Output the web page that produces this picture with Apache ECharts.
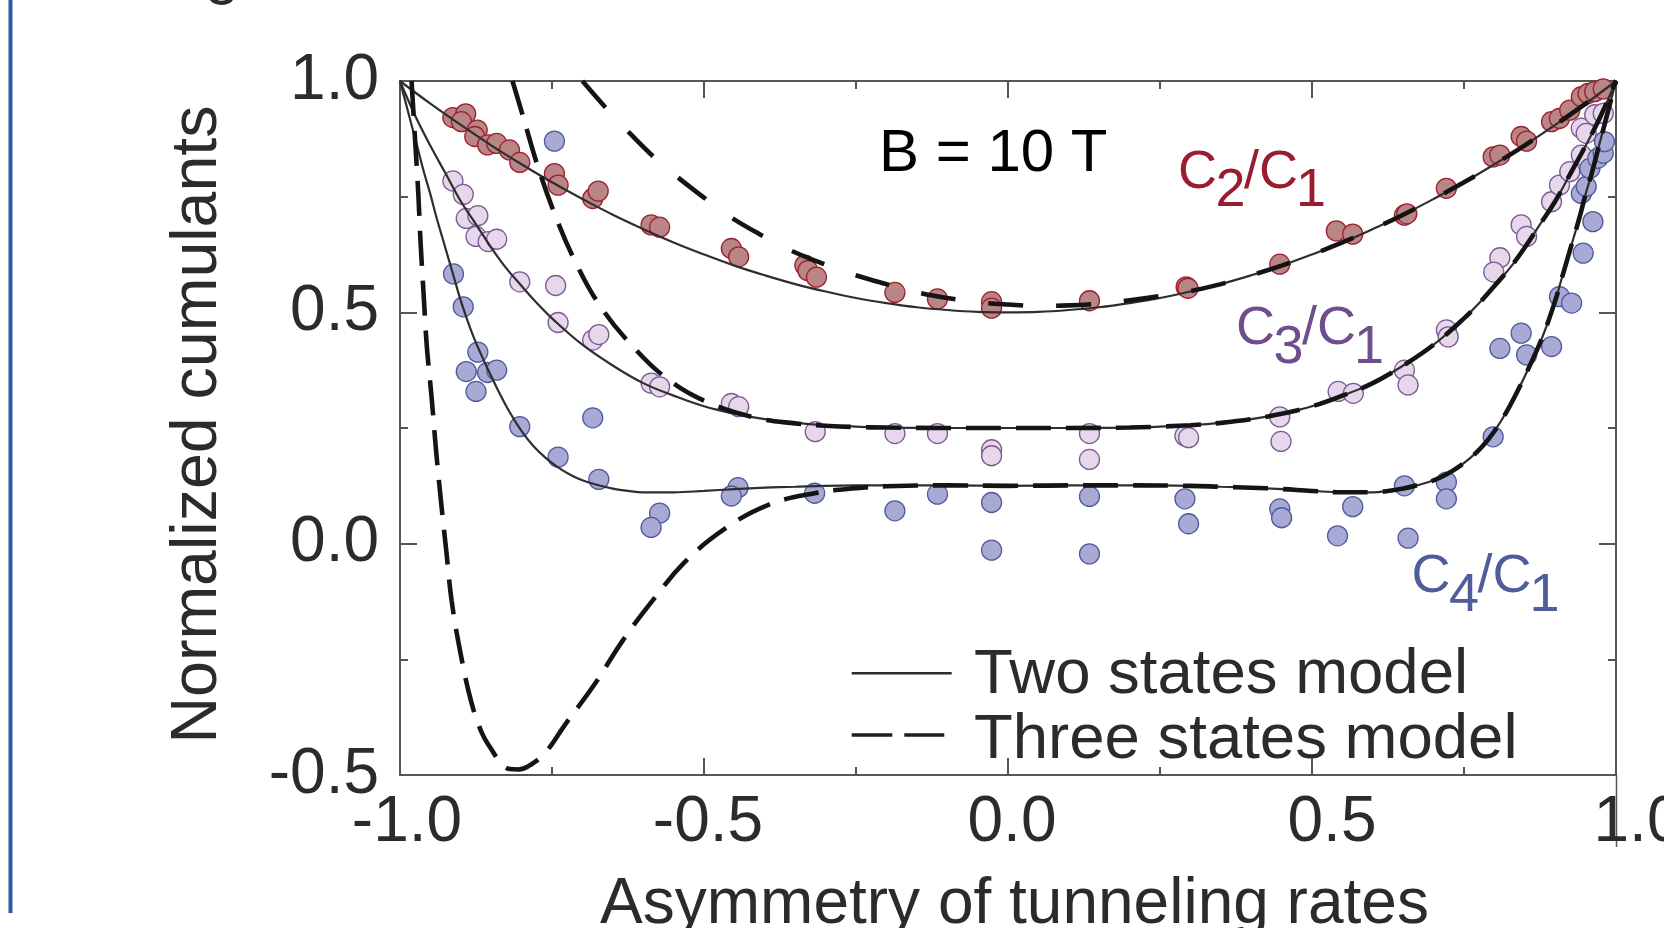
<!DOCTYPE html>
<html>
<head>
<meta charset="utf-8">
<script src="https://cdn.jsdelivr.net/npm/echarts@6/dist/echarts.min.js"></script>
<style>
html,body{margin:0;padding:0;background:#ffffff;}
#chart{width:1664px;height:928px;}
</style>
</head>
<body>
<div id="chart"></div>
<script>
// ---------- tick labels ----------
const xTickLabels = ['-1.0', '-0.5', '0.0', '0.5', '1.0'];
const yTickLabels = ['-0.5', '0.0', '0.5', '1.0'];

// ---------- measured points [asymmetry, normalized cumulant] ----------
const c2Measured = [
  [-0.913,0.921],[-0.892,0.929],[-0.899,0.912],[-0.873,0.894],[-0.877,0.880],[-0.856,0.862],
  [-0.841,0.865],[-0.820,0.851],[-0.803,0.824],[-0.746,0.800],[-0.740,0.775],[-0.683,0.746],
  [-0.674,0.762],[-0.587,0.689],[-0.573,0.684],[-0.455,0.638],[-0.443,0.620],[-0.334,0.602],
  [-0.329,0.590],[-0.315,0.576],[-0.186,0.543],[-0.116,0.529],[-0.027,0.523],[-0.027,0.509],
  [0.134,0.525],[0.293,0.555],[0.296,0.552],[0.447,0.604],[0.540,0.676],[0.567,0.669],
  [0.652,0.710],[0.656,0.713],[0.721,0.768],[0.798,0.836],[0.809,0.840],[0.844,0.880],
  [0.853,0.870],[0.894,0.912],[0.907,0.919],[0.924,0.937],[0.943,0.966],[0.954,0.973],
  [0.965,0.977],[0.979,0.983]
];
const c3Measured = [
  [-0.913,0.784],[-0.896,0.755],[-0.891,0.703],[-0.872,0.709],[-0.875,0.664],[-0.855,0.653],
  [-0.841,0.658],[-0.803,0.566],[-0.744,0.558],[-0.740,0.478],[-0.683,0.440],[-0.673,0.452],
  [-0.587,0.347],[-0.573,0.339],[-0.455,0.303],[-0.443,0.296],[-0.317,0.242],[-0.186,0.238],
  [-0.116,0.238],[-0.027,0.203],[-0.027,0.190],[0.134,0.238],[0.134,0.182],[0.291,0.233],
  [0.297,0.229],[0.447,0.274],[0.449,0.221],[0.543,0.329],[0.568,0.325],[0.652,0.375],
  [0.658,0.343],[0.721,0.462],[0.724,0.447],[0.809,0.618],[0.799,0.587],[0.844,0.689],
  [0.853,0.664],[0.894,0.739],[0.907,0.775],[0.924,0.804],[0.943,0.840],[0.943,0.898],
  [0.951,0.887],[0.965,0.927],[0.979,0.930]
];
const c4Measured = [
  [-0.746,0.870],[-0.912,0.583],[-0.896,0.512],[-0.872,0.414],[-0.891,0.372],[-0.856,0.370],
  [-0.841,0.375],[-0.875,0.329],[-0.803,0.253],[-0.683,0.272],[-0.740,0.187],[-0.673,0.139],
  [-0.573,0.066],[-0.587,0.035],[-0.444,0.121],[-0.455,0.103],[-0.318,0.109],[-0.186,0.071],
  [-0.116,0.107],[-0.027,0.089],[-0.027,-0.014],[0.134,0.102],[0.134,-0.022],[0.291,0.097],
  [0.297,0.043],[0.447,0.075],[0.450,0.056],[0.542,0.017],[0.567,0.080],[0.652,0.125],
  [0.658,0.012],[0.721,0.133],[0.721,0.097],[0.798,0.231],[0.809,0.422],[0.844,0.455],
  [0.853,0.408],[0.894,0.426],[0.907,0.534],[0.927,0.520],[0.946,0.628],[0.962,0.696],
  [0.943,0.757],[0.951,0.772],[0.957,0.811],[0.970,0.833],[0.979,0.844],[0.981,0.869]
];

// ---------- two states model (solid) ----------
const twoStateC2 = [
  [-1,1],[-0.95,0.951],[-0.9,0.905],[-0.85,0.861],[-0.8,0.82],[-0.75,0.781],[-0.7,0.745],
  [-0.65,0.711],[-0.6,0.68],[-0.55,0.651],[-0.5,0.625],[-0.45,0.601],[-0.4,0.58],[-0.35,0.561],
  [-0.3,0.545],[-0.25,0.531],[-0.2,0.52],[-0.15,0.511],[-0.1,0.505],[-0.05,0.501],[0,0.5],
  [0.05,0.501],[0.1,0.505],[0.15,0.511],[0.2,0.52],[0.25,0.531],[0.3,0.545],[0.35,0.561],
  [0.4,0.58],[0.45,0.601],[0.5,0.625],[0.55,0.651],[0.6,0.68],[0.65,0.711],[0.7,0.745],
  [0.75,0.781],[0.8,0.82],[0.85,0.861],[0.9,0.905],[0.95,0.951],[1,1]
];
const twoStateC3 = [
  [-1,1],[-0.975,0.925],[-0.95,0.86],[-0.925,0.80],[-0.9,0.74],[-0.875,0.69],[-0.85,0.64],
  [-0.825,0.595],[-0.8,0.557],[-0.775,0.52],[-0.75,0.487],[-0.7,0.43],[-0.65,0.385],
  [-0.6,0.347],[-0.55,0.32],[-0.5,0.297],[-0.45,0.281],[-0.4,0.269],[-0.35,0.261],[-0.3,0.256],
  [-0.25,0.253],[-0.2,0.251],[-0.1,0.25],[0,0.25],[0.1,0.25],[0.2,0.251],[0.25,0.253],
  [0.3,0.256],[0.35,0.261],[0.4,0.269],[0.45,0.281],[0.5,0.297],[0.55,0.32],[0.6,0.347],
  [0.65,0.385],[0.7,0.43],[0.75,0.487],[0.775,0.52],[0.8,0.557],[0.825,0.595],[0.85,0.64],
  [0.875,0.69],[0.9,0.74],[0.925,0.80],[0.95,0.86],[0.975,0.925],[1,1]
];
const twoStateC4 = [
  [-1,1],[-0.99,0.95],[-0.98,0.9],[-0.97,0.85],[-0.96,0.80],[-0.95,0.755],[-0.94,0.705],
  [-0.93,0.66],[-0.92,0.615],[-0.91,0.57],[-0.9,0.525],[-0.88,0.45],[-0.86,0.39],[-0.84,0.335],
  [-0.82,0.285],[-0.8,0.243],[-0.78,0.21],[-0.76,0.185],[-0.74,0.165],[-0.72,0.149],[-0.7,0.137],
  [-0.675,0.127],[-0.65,0.119],[-0.625,0.114],[-0.6,0.111],[-0.55,0.111],[-0.5,0.114],
  [-0.45,0.118],[-0.4,0.121],[-0.35,0.123],[-0.3,0.125],[-0.2,0.126],[-0.1,0.126],[0,0.125],
  [0.1,0.126],[0.2,0.126],[0.3,0.125],[0.35,0.123],[0.4,0.121],[0.45,0.118],[0.5,0.114],
  [0.55,0.111],[0.6,0.111],[0.625,0.114],[0.65,0.119],[0.675,0.127],[0.7,0.137],[0.72,0.149],
  [0.74,0.165],[0.76,0.185],[0.78,0.21],[0.8,0.243],[0.82,0.285],[0.84,0.335],[0.86,0.39],
  [0.88,0.45],[0.9,0.525],[0.91,0.57],[0.92,0.615],[0.93,0.66],[0.94,0.705],[0.95,0.755],
  [0.96,0.80],[0.97,0.85],[0.98,0.9],[0.99,0.95],[1,1]
];

// ---------- three states model (dashed) ----------
const threeStateC2 = [
  [-0.70,1.0],[-0.66,0.94],[-0.63,0.898],[-0.59,0.845],[-0.548,0.797],[-0.5,0.748],
  [-0.461,0.71],[-0.41,0.67],[-0.356,0.633],[-0.3,0.603],[-0.255,0.582],[-0.2,0.561],
  [-0.148,0.543],[-0.1,0.531],[-0.05,0.522],[0,0.517],[0.05,0.514],[0.1,0.515],[0.15,0.519],
  [0.2,0.526],[0.25,0.535],[0.3,0.546],[0.35,0.561],[0.4,0.58],[0.45,0.601],[0.5,0.625],
  [0.55,0.651],[0.6,0.68],[0.65,0.711],[0.7,0.745],[0.75,0.781],[0.8,0.82],[0.85,0.861],
  [0.9,0.905],[0.95,0.951],[1,1]
];
const threeStateC3 = [
  [-0.815,1.0],[-0.798,0.925],[-0.774,0.818],[-0.746,0.714],[-0.713,0.613],[-0.672,0.516],
  [-0.619,0.429],[-0.558,0.354],[-0.489,0.303],[-0.411,0.271],[-0.35,0.26],[-0.3,0.255],
  [-0.25,0.252],[-0.2,0.251],[-0.1,0.25],[0,0.25],[0.1,0.25],[0.2,0.251],[0.25,0.253],
  [0.3,0.256],[0.35,0.261],[0.4,0.269],[0.45,0.281],[0.5,0.297],[0.55,0.32],[0.6,0.347],
  [0.65,0.385],[0.7,0.43],[0.75,0.487],[0.775,0.52],[0.8,0.557],[0.825,0.595],[0.85,0.64],
  [0.875,0.69],[0.9,0.74],[0.925,0.80],[0.95,0.86],[0.975,0.925],[1,1]
];
const threeStateC4 = [
  [-0.981,1.0],[-0.975,0.869],[-0.970,0.759],[-0.966,0.647],[-0.961,0.536],[-0.956,0.428],
  [-0.948,0.316],[-0.941,0.206],[-0.933,0.097],[-0.924,-0.014],[-0.915,-0.124],[-0.901,-0.233],
  [-0.883,-0.341],[-0.865,-0.41],[-0.85,-0.444],[-0.834,-0.474],[-0.82,-0.487],[-0.805,-0.488],
  [-0.789,-0.481],[-0.762,-0.453],[-0.729,-0.392],[-0.68,-0.304],[-0.634,-0.210],[-0.584,-0.122],
  [-0.531,-0.039],[-0.466,0.032],[-0.394,0.084],[-0.318,0.109],[-0.25,0.12],[-0.2,0.124],
  [-0.1,0.126],[0,0.125],[0.1,0.126],[0.2,0.126],[0.3,0.125],[0.35,0.123],[0.4,0.121],
  [0.45,0.118],[0.5,0.114],[0.55,0.111],[0.6,0.111],[0.625,0.114],[0.65,0.119],[0.675,0.127],
  [0.7,0.137],[0.72,0.149],[0.74,0.165],[0.76,0.185],[0.78,0.21],[0.8,0.243],[0.82,0.285],
  [0.84,0.335],[0.86,0.39],[0.88,0.45],[0.9,0.525],[0.91,0.57],[0.92,0.615],[0.93,0.66],
  [0.94,0.705],[0.95,0.755],[0.96,0.80],[0.97,0.85],[0.98,0.9],[0.99,0.95],[1,1]
];

// ---------- styling ----------
const FONT = '"Liberation Sans", Arial, Helvetica, sans-serif';
const TXT = '#2b2b2b';
const AX = '#555555';
const xLabelShift = [14, 8, 8, 40, 44];

const chart = echarts.init(document.getElementById('chart'), null, {renderer: 'canvas'});

const axisCommon = {
  type: 'value',
  axisLine: {show: true, onZero: false, lineStyle: {color: AX, width: 2}},
  axisTick: {show: true, inside: true, length: 17, lineStyle: {color: AX, width: 2}},
  minorTick: {show: true, splitNumber: 2, length: 8, lineStyle: {color: AX, width: 2}},
  splitLine: {show: false},
  minorSplitLine: {show: false}
};

function xLabelIndex(v) { return Math.round((v + 1) / 0.5); }
function yLabelIndex(v) { return Math.round((v + 0.5) / 0.5); }

const xRich = {};
xLabelShift.forEach((p, i) => {
  xRich['o' + i] = {fontSize: 64, fontFamily: FONT, color: TXT, padding: [0, 0, 0, p]};
});

function ratioLabel(x0, yMain, ySub, n, color) {
  const f = '54px ' + FONT;
  const mk = (t, x, y) => ({
    type: 'text', x: x, y: y,
    style: {text: t, font: f, fill: color, align: 'left', verticalAlign: 'middle',
            textAlign: 'left', textVerticalAlign: 'middle'}
  });
  return [mk('C', x0, yMain), mk(n, x0 + 37.5, ySub), mk('/C', x0 + 66, yMain), mk('1', x0 + 118, ySub)];
}

function lineSeries(data, dashed, dash) {
  return {
    type: 'line', data: data, symbol: 'none', smooth: 0.4,
    z: 5, silent: true, clip: true,
    lineStyle: dashed ? {color: '#141414', width: 4.6, type: dash}
                      : {color: '#2e2e2e', width: 2.2, type: 'solid'}
  };
}

function scatterSeries(data, fill, stroke) {
  return {
    type: 'scatter', data: data, symbol: 'circle', symbolSize: 20, z: 2, silent: true,
    itemStyle: {color: fill, borderColor: stroke, borderWidth: 1.3, opacity: 1}
  };
}

const txt = (t, x, y, size, color) => ({
  type: 'text', x: x, y: y,
  style: {text: t, font: size + 'px ' + FONT, fill: color, align: 'left', verticalAlign: 'middle',
          textAlign: 'left', textVerticalAlign: 'middle'}
});

const option = {
  animation: false,
  backgroundColor: '#ffffff',
  grid: {left: 400, right: 48, top: 81, bottom: 153, containLabel: false, outerBoundsMode: 'none'},
  xAxis: [
    Object.assign({}, axisCommon, {
      min: -1, max: 1, interval: 0.5, position: 'bottom',
      name: 'Asymmetry of tunneling rates', nameLocation: 'middle', nameGap: 98,
      nameTextStyle: {fontSize: 64, fontFamily: FONT, color: TXT, padding: [0, 0, 0, 13]},
      axisLabel: {
        show: true, margin: 16, fontSize: 64, fontFamily: FONT, color: TXT,
        showMinLabel: true, showMaxLabel: true,
        formatter: (v) => { const i = xLabelIndex(v); return '{o' + i + '|' + xTickLabels[i] + '}'; },
        rich: xRich
      }
    }),
    Object.assign({}, axisCommon, {
      min: -1, max: 1, interval: 0.5, position: 'top', axisLabel: {show: false}
    })
  ],
  yAxis: [
    Object.assign({}, axisCommon, {
      min: -0.5, max: 1, interval: 0.5, position: 'left',
      name: 'Normalized cumulants', nameLocation: 'middle', nameGap: 169, nameRotate: 90,
      nameTextStyle: {fontSize: 64.5, fontFamily: FONT, color: TXT, padding: [0, 0, 0, 7]},
      axisLabel: {
        show: true, margin: 21, fontSize: 64, fontFamily: FONT, color: TXT,
        showMinLabel: true, showMaxLabel: true,
        formatter: (v) => yTickLabels[yLabelIndex(v)]
      }
    }),
    Object.assign({}, axisCommon, {
      min: -0.5, max: 1, interval: 0.5, position: 'right', axisLabel: {show: false}
    })
  ],
  series: [
    scatterSeries(c2Measured, '#b98585', '#9e1f30'),
    scatterSeries(c3Measured, '#e7d7ea', '#7c5a93'),
    scatterSeries(c4Measured, '#a9a9d6', '#4d5c9b'),
    lineSeries(twoStateC2, false),
    lineSeries(twoStateC3, false),
    lineSeries(twoStateC4, false),
    lineSeries(threeStateC2, true, [35, 33]),
    lineSeries(threeStateC3, true, [35, 15]),
    lineSeries(threeStateC4, true, [35, 15])
  ],
  graphic: [
    {type: 'line', shape: {x1: 10.5, y1: 0, x2: 10.5, y2: 913}, style: {stroke: '#2c5aa6', lineWidth: 4}},
    {type: 'line', shape: {x1: 1616.5, y1: 775, x2: 1616.5, y2: 847}, style: {stroke: AX, lineWidth: 1.5}},
    txt('g', 204.5, -25.5, 63, TXT),
    txt('B = 10 T', 879, 154.7, 60, '#000000'),
    {type: 'group', children: ratioLabel(1178, 173.3, 190.8, '2', '#9b1b30')},
    {type: 'group', children: ratioLabel(1236, 329, 348, '3', '#6f4e8e')},
    {type: 'group', children: ratioLabel(1411.5, 577.5, 596, '4', '#4f5d9b')},
    {type: 'line', shape: {x1: 851.7, y1: 673.3, x2: 951.7, y2: 673.3}, style: {stroke: '#2b2b2b', lineWidth: 2.5}},
    {type: 'line', shape: {x1: 851.7, y1: 735, x2: 892.3, y2: 735}, style: {stroke: '#1e1e1e', lineWidth: 3.5}},
    {type: 'line', shape: {x1: 904.3, y1: 735, x2: 944.3, y2: 735}, style: {stroke: '#1e1e1e', lineWidth: 3.5}},
    txt('Two states model', 974, 675, 63.5, TXT),
    txt('Three states model', 974, 740.5, 63.5, TXT)
  ]
};

chart.setOption(option);
</script>
</body>
</html>
